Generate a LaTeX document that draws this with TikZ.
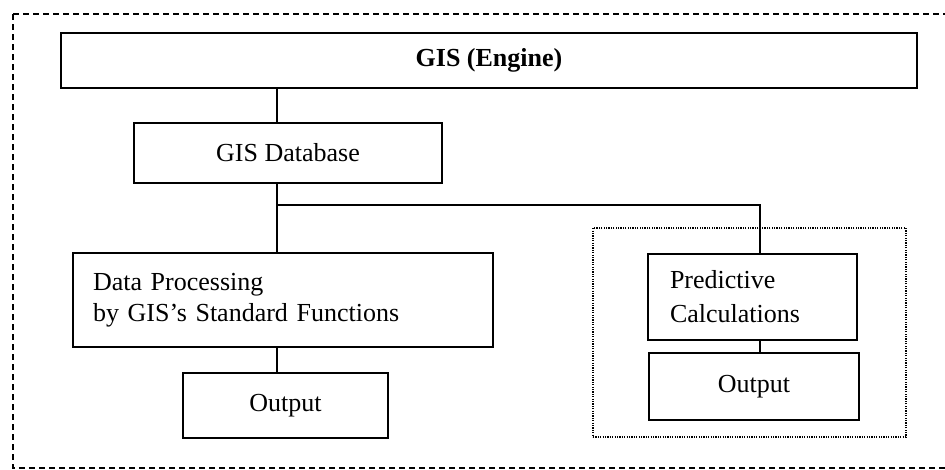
\documentclass[tikz,border=0pt]{standalone}
\usepackage{fontspec}
\setmainfont{Liberation Serif}
\begin{document}
\begin{tikzpicture}[x=1pt,y=-1pt,
  box/.style={draw, line width=2pt, rectangle, inner sep=0pt, align=center},
  lbox/.style={draw, line width=2pt, rectangle, inner ysep=0pt, align=left},
  conn/.style={line width=2pt},
  frame/.style={line width=1.6pt, dash pattern=on 6pt off 4pt},
  group/.style={line width=1.6pt, dash pattern=on 1.2pt off 1.2pt}]
\useasboundingbox (0,0) rectangle (945,469);
\fontsize{26}{31}\selectfont
\draw[frame] (13,14) -- (960,14) (13,14) -- (13,468) -- (960,468);
\node[box, minimum width=856pt, minimum height=55pt] (eng) at (489,60.5) {\bfseries GIS (Engine)};
\node[box, minimum width=308pt, minimum height=60pt] (db) at (288,153) {GIS Database};
\node[lbox, inner xsep=20pt, text width=380pt, minimum height=94pt] (dp) at (283,300) {Data Processing\\by GIS's Standard Functions};
\node[box, minimum width=205pt, minimum height=65pt] (out1) at (285.5,405.5) {Output};
\node[group, draw, rectangle, minimum width=313pt, minimum height=209pt, inner sep=0pt] (grp) at (749.5,332.5) {};
\node[lbox, inner xsep=22pt, text width=165pt, minimum height=86pt, font=\fontsize{26}{34}\selectfont] (pc) at (752.5,297) {Predictive\\Calculations};
\node[box, minimum width=210pt, minimum height=67pt] (out2) at (754,386.5) {Output};
\coordinate (j) at (277,205);
\coordinate (k) at (760,205);
\draw[conn] (eng.south -| j) -- (db.north -| j);
\draw[conn] (db.south -| j) -- (dp.north -| j);
\draw[conn] (j) -- (k) -- (k |- pc.north);
\draw[conn] (dp.south -| j) -- (out1.north -| j);
\draw[conn] (pc.south -| k) -- (out2.north -| k);
\end{tikzpicture}
\end{document}
